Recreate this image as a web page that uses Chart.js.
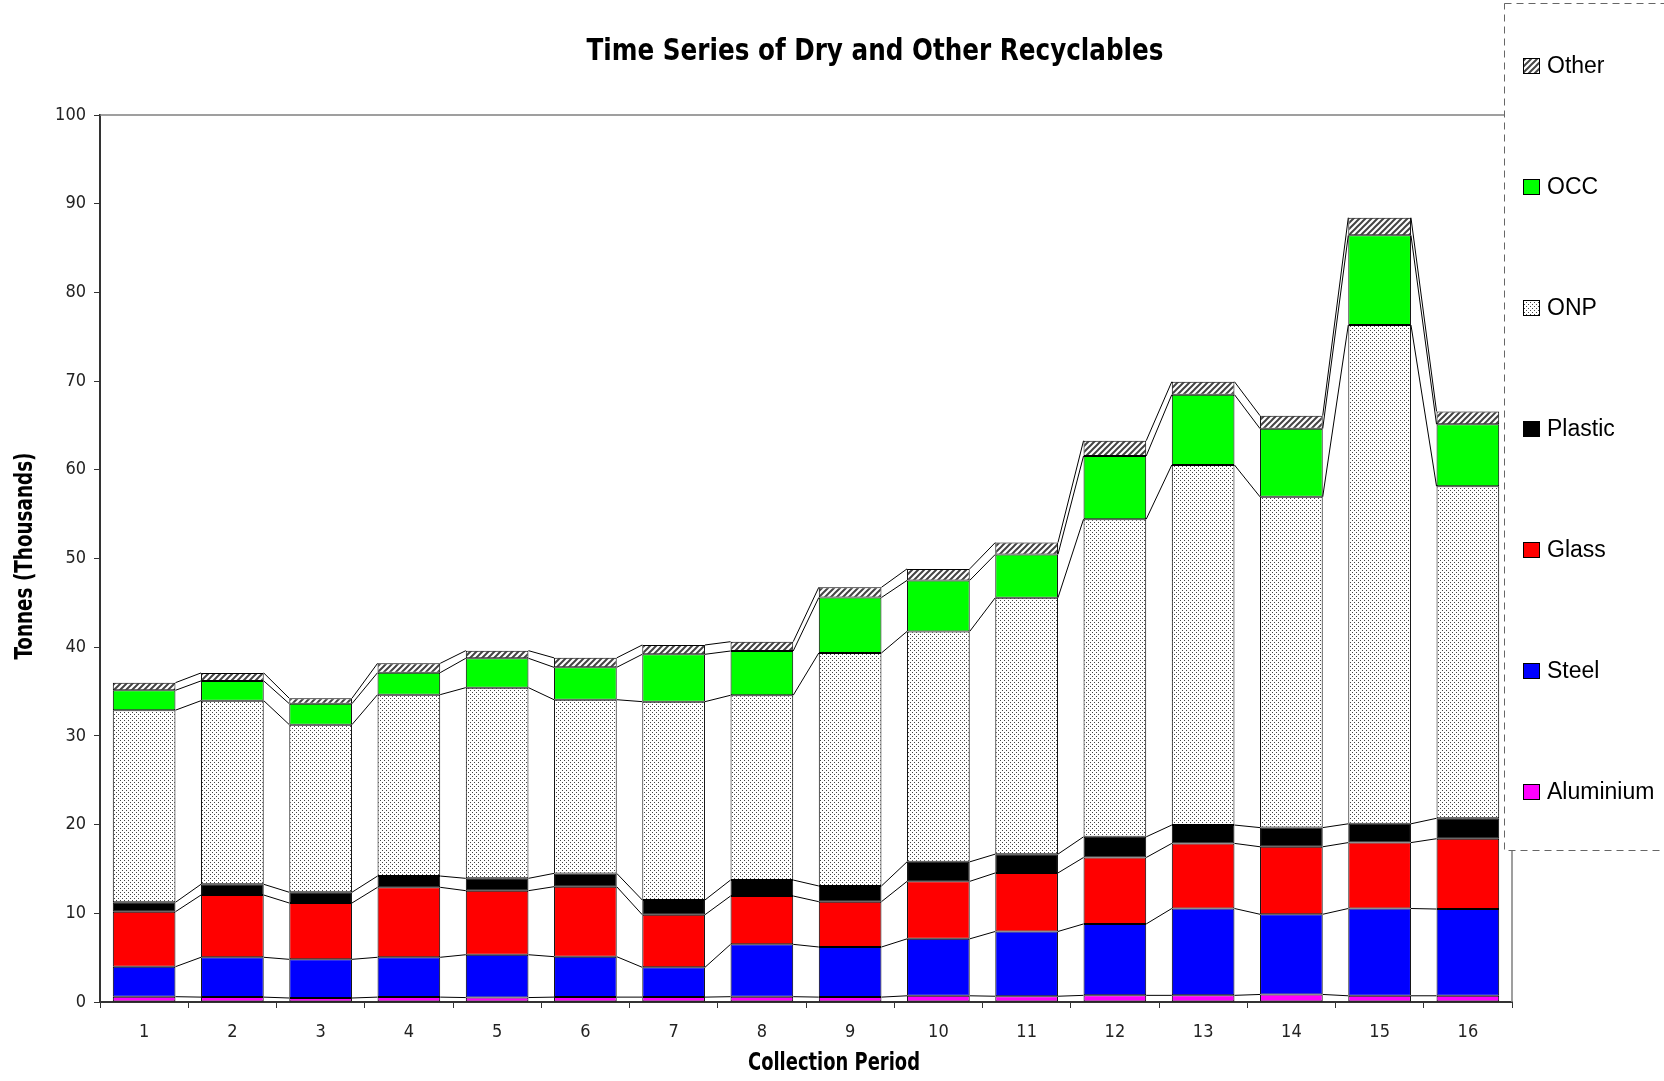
<!DOCTYPE html>
<html>
<head>
<meta charset="utf-8">
<title>Time Series of Dry and Other Recyclables</title>
<script src="https://cdn.jsdelivr.net/npm/chart.js@4.4.0/dist/chart.umd.min.js"></script>
<style>
  html, body { margin: 0; padding: 0; background: #fff; }
  canvas { display: block; }
</style>
</head>
<body>
<canvas id="recyclingChart" width="1664" height="1081"></canvas>
<script>
// values in thousand tonnes
const periods = ["1", "2", "3", "4", "5", "6", "7", "8", "9", "10", "11", "12", "13", "14", "15", "16"];
const aluminium = [0.60, 0.55, 0.45, 0.55, 0.50, 0.55, 0.55, 0.60, 0.55, 0.70, 0.65, 0.75, 0.75, 0.85, 0.70, 0.70];
const steel = [3.38, 4.49, 4.36, 4.49, 4.83, 4.56, 3.36, 5.90, 5.65, 6.42, 7.30, 8.05, 9.79, 9.04, 9.84, 9.78];
const glass = [6.20, 7.02, 6.35, 7.89, 7.22, 7.89, 5.93, 5.45, 5.11, 6.48, 6.60, 7.49, 7.34, 7.61, 7.43, 7.93];
const plastic = [1.06, 1.21, 1.21, 1.27, 1.39, 1.50, 1.66, 1.80, 1.77, 2.20, 2.12, 2.33, 2.07, 2.16, 2.12, 2.30];
const onp = [21.66, 20.70, 18.90, 20.45, 21.50, 19.58, 22.36, 20.83, 26.27, 25.98, 28.91, 35.81, 40.59, 37.29, 56.23, 37.43];
const occ = [2.24, 2.23, 2.36, 2.48, 3.31, 3.65, 5.34, 4.99, 6.25, 5.75, 4.88, 7.13, 7.93, 7.69, 10.11, 6.99];
const other = [0.86, 0.90, 0.61, 1.05, 0.86, 1.07, 1.05, 1.05, 1.15, 1.30, 1.34, 1.72, 1.46, 1.46, 1.99, 1.45];
const yMin = 0;
const yMax = 100;
const yStep = 10;

const narrow = "'Liberation Sans Narrow', 'Arial Narrow', 'DejaVu Sans Condensed', 'Liberation Sans', sans-serif";

function makeDots() {
  const c = document.createElement("canvas");
  c.width = 4; c.height = 4;
  const g = c.getContext("2d");
  g.fillStyle = "#fff";
  g.fillRect(0, 0, 4, 4);
  g.fillStyle = "#444";
  g.fillRect(0, 0, 1, 1);
  g.fillRect(2, 2, 1, 1);
  return g.createPattern(c, "repeat");
}

function makeHatch() {
  const s = 6;
  const c = document.createElement("canvas");
  c.width = s; c.height = s;
  const g = c.getContext("2d");
  g.fillStyle = "#fff";
  g.fillRect(0, 0, s, s);
  g.strokeStyle = "#444";
  g.lineWidth = 2;
  g.beginPath();
  g.moveTo(0, s); g.lineTo(s, 0);
  g.moveTo(-1, 1); g.lineTo(1, -1);
  g.moveTo(s - 1, s + 1); g.lineTo(s + 1, s - 1);
  g.stroke();
  return g.createPattern(c, "repeat");
}

const dots = makeDots();
const hatch = makeHatch();

function series(label, data, fill) {
  return {
    label: label,
    data: data,
    backgroundColor: fill,
    borderColor: "#000",
    borderWidth: 1,
    borderSkipped: false,
    barPercentage: 0.71,
    categoryPercentage: 1.0
  };
}

// squeeze text sideways so it fills the given width (stand-in for a narrow face)
function narrowText(ctx, text, x, y, width, angle) {
  const w = ctx.measureText(text).width;
  ctx.save();
  ctx.translate(x, y);
  if (angle) ctx.rotate(angle);
  ctx.scale(Math.min(1, width / w), 1);
  ctx.fillText(text, 0, 0);
  ctx.restore();
}

// Excel style series lines joining the top of each segment between bars
const seriesLines = {
  id: "seriesLines",
  afterDatasetsDraw(chart) {
    const ctx = chart.ctx;
    ctx.save();
    ctx.strokeStyle = "#000";
    ctx.lineWidth = 1;
    chart.data.datasets.forEach((ds, d) => {
      const bars = chart.getDatasetMeta(d).data;
      for (let i = 0; i < bars.length - 1; i++) {
        const a = bars[i], b = bars[i + 1];
        ctx.beginPath();
        ctx.moveTo(a.x + a.width / 2, a.y);
        ctx.lineTo(b.x - b.width / 2, b.y);
        ctx.stroke();
      }
    });
    ctx.restore();
  }
};

const frameAndLegend = {
  id: "frameAndLegend",
  afterDraw(chart) {
    const ctx = chart.ctx;
    const area = chart.chartArea;
    ctx.save();

    // grey top and right edges of the plot
    ctx.strokeStyle = "#808080";
    ctx.lineWidth = 1.5;
    ctx.beginPath();
    ctx.moveTo(area.left, area.top);
    ctx.lineTo(area.right, area.top);
    ctx.lineTo(area.right, area.bottom);
    ctx.stroke();

    // legend box
    const bx = 1504.5, by = 3.5, bw = 200, bh = 847;
    ctx.fillStyle = "#fff";
    ctx.fillRect(bx, by, bw, bh);
    ctx.setLineDash([7, 5]);
    ctx.strokeStyle = "#666";
    ctx.lineWidth = 1;
    ctx.strokeRect(bx, by, bw, bh);
    ctx.setLineDash([]);

    const items = chart.data.datasets.slice().reverse();
    ctx.font = "23px 'Liberation Sans', Arial, sans-serif";
    ctx.textBaseline = "middle";
    ctx.textAlign = "left";
    items.forEach((ds, i) => {
      const cy = 66 + i * 121;
      ctx.fillStyle = ds.backgroundColor;
      ctx.fillRect(1523, cy - 8, 17, 16);
      ctx.strokeStyle = "#000";
      ctx.lineWidth = 1;
      ctx.strokeRect(1523.5, cy - 7.5, 16, 15);
      ctx.fillStyle = "#000";
      ctx.fillText(ds.label, 1547, cy + 1);
    });

    // chart title and axis titles
    ctx.textAlign = "center";
    ctx.fillStyle = "#000";
    ctx.font = "bold 31px " + narrow;
    narrowText(ctx, "Time Series of Dry and Other Recyclables", 875, 52, 577);
    ctx.font = "bold 24px " + narrow;
    narrowText(ctx, "Collection Period", 834, 1064, 172);
    narrowText(ctx, "Tonnes (Thousands)", 26, 556, 207, -Math.PI / 2);
    ctx.restore();
  }
};

const ctx = document.getElementById("recyclingChart").getContext("2d");
const chart = new Chart(ctx, {
  type: "bar",
  data: {
    labels: periods,
    datasets: [
      series("Aluminium", aluminium, "#ff00ff"),
      series("Steel", steel, "#0000ff"),
      series("Glass", glass, "#ff0000"),
      series("Plastic", plastic, "#000000"),
      series("ONP", onp, dots),
      series("OCC", occ, "#00ff00"),
      series("Other", other, hatch)
    ]
  },
  options: {
    responsive: false,
    animation: false,
    layout: { padding: { top: 115, right: 152, bottom: 0, left: 0 } },
    plugins: {
      legend: { display: false },
      title: { display: false },
      tooltip: { enabled: false }
    },
    scales: {
      x: {
        stacked: true,
        afterFit: (scale) => { scale.height = 79; },
        border: { display: true, color: "#333", width: 2 },
        grid: { drawOnChartArea: false, drawTicks: true, tickLength: 6, color: "#333" },
        ticks: { color: "#222", padding: 14, font: { family: narrow, size: 18 } }
      },
      y: {
        stacked: true,
        min: yMin,
        max: yMax,
        afterFit: (scale) => { scale.width = 100; },
        border: { display: true, color: "#333", width: 2 },
        grid: { drawOnChartArea: false, drawTicks: true, tickLength: 6, color: "#333" },
        ticks: { stepSize: yStep, color: "#222", padding: 8, font: { family: narrow, size: 18 } }
      }
    }
  },
  plugins: [seriesLines, frameAndLegend]
});
</script>
</body>
</html>
